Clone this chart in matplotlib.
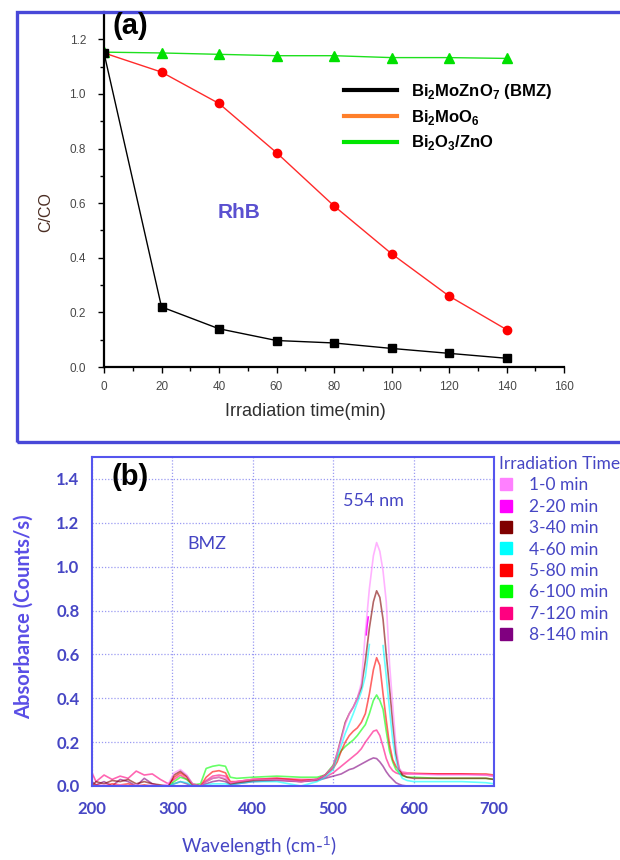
"""
Two-panel figure: (a) C/C0 decay of RhB under irradiation for three
catalysts, (b) absorbance spectra of RhB over BMZ at successive times.
"""

import matplotlib
matplotlib.use('Agg')  # headless
import matplotlib.pyplot as plt
from matplotlib.lines import Line2D
from matplotlib.patches import Rectangle
from matplotlib.ticker import MultipleLocator, FormatStrFormatter
import numpy as np

plt.rcParams['mathtext.fontset'] = 'custom'
plt.rcParams['mathtext.rm'] = 'Liberation Sans'
plt.rcParams['mathtext.bf'] = 'Liberation Sans:bold'

ARIAL = 'Liberation Sans'
SOFT = 'Lato'   # closest installed stand-in for the Calibri-like face

# ---------------------------------------------------------------------
# Panel (a) data: C/C0 vs irradiation time
# ---------------------------------------------------------------------
TIME = [0, 20, 40, 60, 80, 100, 120, 140]
BMZ = [1.15, 0.22, 0.14, 0.097, 0.088, 0.068, 0.05, 0.032]
BI2MOO6 = [1.15, 1.08, 0.965, 0.785, 0.59, 0.415, 0.26, 0.137]
BI2O3_ZNO = [1.153, 1.15, 1.145, 1.14, 1.14, 1.133, 1.133, 1.13]

LEGEND_A = ['Bi$_\\mathbf{2}$MoZnO$_\\mathbf{7}$ (BMZ)',
            'Bi$_\\mathbf{2}$MoO$_\\mathbf{6}$',
            'Bi$_\\mathbf{2}$O$_\\mathbf{3}$/ZnO']
LEGEND_A_COLORS = ['#000000', '#ff7f2a', '#00e600']

# ---------------------------------------------------------------------
# Panel (b) data: absorbance spectra
# ---------------------------------------------------------------------
WL = [200, 205, 215, 225, 235, 245, 255, 265, 275, 285, 295,
      302, 310, 318, 325, 335, 342, 350, 358, 366, 372, 380,
      400, 430, 460, 480, 490, 500, 505, 510, 515, 520,
      525, 530, 535, 540, 545, 550, 554, 558, 562, 566,
      570, 574, 578, 582, 586, 592, 600, 630, 660, 690, 700]

T0 = [0.0, 0.0, 0.005, 0.0, 0.005, 0.0, 0.005, 0.0, 0.005, 0.0, 0.01,
      0.06, 0.075, 0.05, 0.01, 0.0, 0.02, 0.035, 0.04, 0.035, 0.015, 0.02,
      0.03, 0.03, 0.02, 0.03, 0.05, 0.09, 0.15, 0.21, 0.28, 0.33,
      0.36, 0.40, 0.47, 0.70, 0.90, 1.05, 1.11, 1.07, 0.98, 0.84,
      0.56, 0.37, 0.19, 0.08, 0.065, 0.06, 0.055, 0.05, 0.05, 0.05, 0.045]
T40 = [0.0, 0.02, 0.01, 0.025, 0.02, 0.03, 0.01, 0.02, 0.01, 0.005, 0.0,
       0.05, 0.068, 0.045, 0.01, 0.0, 0.02, 0.035, 0.04, 0.03, 0.01, 0.015,
       0.025, 0.03, 0.02, 0.03, 0.05, 0.09, 0.15, 0.22, 0.29, 0.33,
       0.36, 0.40, 0.45, 0.57, 0.72, 0.84, 0.89, 0.86, 0.76, 0.60,
       0.45, 0.29, 0.15, 0.08, 0.05, 0.04, 0.035, 0.035, 0.035, 0.035, 0.03]
T60 = [0.0, 0.0, 0.0, 0.0, 0.0, 0.0, 0.0, 0.0, 0.0, 0.0, 0.0,
       0.01, 0.02, 0.015, 0.0, 0.0, 0.005, 0.01, 0.01, 0.01, 0.005, 0.01,
       0.02, 0.02, 0.0, 0.02, 0.04, 0.075, 0.13, 0.185, 0.24, 0.285,
       0.33, 0.38, 0.43, 0.50, 0.645, np.nan, np.nan, np.nan, 0.64, 0.50,
       0.35, 0.21, 0.12, 0.06, 0.035, 0.025, 0.02, 0.02, 0.02, 0.015, 0.01]
T80 = [0.0, 0.005, 0.0, 0.01, 0.005, 0.01, 0.0, 0.005, 0.0, 0.0, 0.0,
       0.04, 0.06, 0.04, 0.005, 0.0, 0.04, 0.065, 0.07, 0.06, 0.02, 0.02,
       0.03, 0.035, 0.025, 0.03, 0.05, 0.08, 0.11, 0.16, 0.20, 0.23,
       0.25, 0.265, 0.29, 0.33, 0.42, 0.53, 0.585, 0.55, 0.42, 0.30,
       0.19, 0.12, 0.09, 0.07, 0.062, 0.06, 0.058, 0.055, 0.055, 0.055, 0.05]
T100 = [0.0, 0.0, 0.0, 0.0, 0.0, 0.0, 0.0, 0.0, 0.0, 0.0, 0.0,
        0.02, 0.04, 0.03, 0.005, 0.01, 0.08, 0.09, 0.095, 0.09, 0.04, 0.035,
        0.04, 0.045, 0.04, 0.04, 0.05, 0.095, 0.13, 0.16, 0.18, 0.195,
        0.21, 0.23, 0.255, 0.28, 0.33, 0.39, 0.415, 0.39, 0.35, 0.25,
        0.16, 0.11, 0.075, 0.06, 0.047, 0.04, 0.04, 0.035, 0.035, 0.035, 0.03]
T120 = [0.06, 0.02, 0.05, 0.03, 0.045, 0.035, 0.068, 0.05, 0.055, 0.03, 0.01,
        0.03, 0.05, 0.03, 0.005, 0.0, 0.025, 0.045, 0.05, 0.045, 0.015, 0.02,
        0.03, 0.035, 0.03, 0.03, 0.04, 0.06, 0.075, 0.09, 0.105, 0.12,
        0.135, 0.15, 0.17, 0.20, 0.225, 0.25, 0.255, 0.23, 0.18, 0.125,
        0.09, 0.07, 0.06, 0.055, 0.055, 0.055, 0.055, 0.055, 0.055, 0.05, 0.045]
T140 = [0.02, 0.005, 0.02, 0.0, 0.03, 0.02, 0.0, 0.035, 0.01, 0.0, 0.0,
        0.01, 0.02, 0.01, 0.0, 0.0, 0.01, 0.02, 0.025, 0.02, 0.005, 0.01,
        0.02, 0.025, 0.02, 0.025, 0.035, 0.045, 0.05, 0.055, 0.065, 0.075,
        0.08, 0.09, 0.10, 0.11, 0.12, 0.128, 0.125, 0.11, 0.09, 0.065,
        0.045, 0.03, 0.015, 0.008, 0.003, 0.0, 0.0, 0.0, 0.0, 0.0, 0.0]
# only a short piece of the 20 min trace shows on the peak flank
WL_T20 = [541, 542, 543.5]
T20 = [0.69, 0.73, 0.77]

TIME_LABELS = ['1-0 min', '2-20 min', '3-40 min', '4-60 min',
               '5-80 min', '6-100 min', '7-120 min', '8-140 min']
TIME_COLORS = ['#ff80ff', '#ff00ff', '#800000', '#00ffff',
               '#ff0000', '#00ff00', '#ff0080', '#800080']

BLUE_TXT = '#4646c4'
BLUE_AX = '#5555ee'


def draw_panel_a(fig):
    ax = fig.add_axes([104 / 620, 1 - 367 / 860, 460 / 620, 355 / 860])
    ax.plot(TIME, BMZ, color='black', lw=1.0, marker='s', ms=5.5, zorder=3)
    ax.plot(TIME, BI2MOO6, color='#ff2a2a', lw=1.0, marker='o', ms=6,
            mfc='#ff0000', mec='#ff0000', zorder=2)
    ax.plot(TIME, BI2O3_ZNO, color='#1ee01e', lw=1.0, marker='^', ms=6.5,
            mfc='#00e000', mec='#00e000', zorder=2)

    ax.set_xlim(0, 160)
    ax.set_ylim(0, 1.3)
    for side in ('top', 'right'):
        ax.spines[side].set_visible(False)
    for side in ('left', 'bottom'):
        ax.spines[side].set_linewidth(1.6)
    ax.xaxis.set_major_locator(MultipleLocator(20))
    ax.xaxis.set_minor_locator(MultipleLocator(10))
    ax.yaxis.set_major_locator(MultipleLocator(0.2))
    ax.yaxis.set_minor_locator(MultipleLocator(0.1))
    ax.yaxis.set_major_formatter(FormatStrFormatter('%.1f'))
    ax.tick_params(which='major', direction='out', length=4, width=1,
                   labelsize=8.5, labelcolor='#484848')
    ax.tick_params(which='minor', direction='out', length=3, width=1)
    ax.tick_params(axis='x', pad=6)
    ax.tick_params(axis='y', pad=9)
    for lab in ax.get_xticklabels() + ax.get_yticklabels():
        lab.set_family(ARIAL)

    ax.set_xlabel('Irradiation time(min)', family=ARIAL, fontsize=13,
                  color='#303030')
    ax.xaxis.set_label_coords(0.437, -0.100)
    ax.set_ylabel('C/CO', family=ARIAL, fontsize=11.5, color='#4a2c22')
    ax.yaxis.set_label_coords(-0.111, 0.437)

    fig.text(130 / 620, 1 - 26 / 860, '(a)', family=ARIAL, fontsize=21,
             fontweight='bold', ha='center', va='center')
    fig.text(239 / 620, 1 - 212 / 860, 'RhB', family=ARIAL, fontsize=15,
             fontweight='bold', color='#5a50d0', ha='center', va='center')

    handles = [Line2D([], [], color=c, lw=3) for c in LEGEND_A_COLORS]
    ax.legend(handles, LEGEND_A, loc='upper left',
              bbox_to_anchor=(344 / 620, 1 - 82 / 860),
              bbox_transform=fig.transFigure, frameon=False,
              borderpad=0, borderaxespad=0, handlelength=3.2,
              handletextpad=0.8, labelspacing=0.4,
              prop={'family': ARIAL, 'weight': 'bold', 'size': 12})

    # blue frame round panel (a)
    fig.add_artist(Rectangle((17 / 620, 1 - 442 / 860), 1.0, 430 / 860,
                             transform=fig.transFigure, fill=False,
                             ec='#4848d8', lw=2.4))


def draw_panel_b(fig):
    ax = fig.add_axes([92 / 620, 1 - 786 / 860, 402 / 620, 329 / 860])
    series = [T0, None, T40, T60, T80, T100, T120, T140]
    for vals, color in reversed(list(zip(series, TIME_COLORS))):
        if vals is None:
            ax.plot(WL_T20, T20, color=color, lw=1.3, alpha=0.9)
        else:
            ax.plot(WL, vals, color=color, lw=1.2, alpha=0.6)

    ax.set_xlim(200, 700)
    ax.set_ylim(0, 1.5)
    ax.xaxis.set_major_locator(MultipleLocator(100))
    ax.yaxis.set_major_locator(MultipleLocator(0.2))
    ax.yaxis.set_major_formatter(FormatStrFormatter('%.1f'))
    ax.grid(True, ls=(0, (1, 1.5)), color='#9a9af2', lw=0.9)
    ax.set_axisbelow(True)
    for sp in ax.spines.values():
        sp.set_color(BLUE_AX)
        sp.set_linewidth(1.5)
    ax.tick_params(length=0, labelsize=12, labelcolor=BLUE_TXT)
    ax.tick_params(axis='x', pad=11)
    ax.tick_params(axis='y', pad=9)
    for lab in ax.get_xticklabels() + ax.get_yticklabels():
        lab.set_family(SOFT)
        lab.set_fontweight('bold')

    ax.set_ylabel('Absorbance (Counts/s)', family=SOFT, fontsize=14.5,
                  fontweight='bold', color='#5a4ee6')
    ax.yaxis.set_label_coords(-0.144, 0.514)
    ax.set_xlabel('Wavelength (cm-$^{1}$)', family=SOFT, fontsize=13.5,
                  color=BLUE_TXT)
    ax.xaxis.set_label_coords(0.415, -0.148)

    fig.text(130 / 620, 1 - 477 / 860, '(b)', family=ARIAL, fontsize=21,
             fontweight='bold', ha='center', va='center')
    fig.text(207 / 620, 1 - 544 / 860, 'BMZ', family=SOFT, fontsize=13,
             color=BLUE_TXT, ha='center', va='center')
    fig.text(373 / 620, 1 - 501 / 860, '554 nm', family=SOFT, fontsize=13,
             color=BLUE_TXT, ha='center', va='center')

    handles = [Line2D([], [], ls='none', marker='s', ms=8, mfc=c, mec=c)
               for c in TIME_COLORS]
    leg = ax.legend(handles, TIME_LABELS, title='Irradiation Time',
                    loc='upper left', bbox_to_anchor=(499 / 620, 1 - 456 / 860),
                    bbox_transform=fig.transFigure, frameon=False,
                    borderpad=0, borderaxespad=0, handlelength=0.8,
                    handletextpad=0.9, labelspacing=0.31,
                    alignment='left', labelcolor=BLUE_TXT,
                    prop={'family': SOFT, 'size': 12.5},
                    title_fontproperties={'family': SOFT, 'size': 12.5})
    leg.get_title().set_color(BLUE_TXT)


def main():
    fig = plt.figure(figsize=(6.2, 8.6), dpi=100)
    draw_panel_a(fig)
    draw_panel_b(fig)
    fig.savefig('out.png', dpi=100)
    plt.close(fig)


if __name__ == '__main__':
    main()
